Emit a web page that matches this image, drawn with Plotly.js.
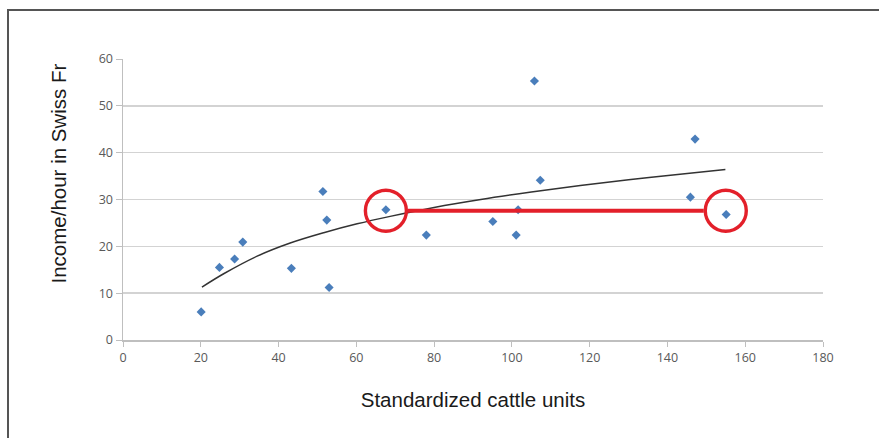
<!DOCTYPE html>
<html>
<head>
<meta charset="utf-8">
<script src="https://cdn.plot.ly/plotly-3.0.1.min.js"></script>
<style>
  html, body { margin: 0; padding: 0; background: #ffffff; overflow: hidden; }
  #wrap { position: relative; width: 879px; height: 438px; }
  #chart { position: absolute; left: 0; top: 0; width: 879px; height: 438px; }
  #frame { position: absolute; left: 7px; top: 9px; width: 900px; height: 460px;
           border-left: 2px solid #555555; border-top: 2px solid #555555; pointer-events: none; }
</style>
</head>
<body>
<div id="wrap">
  <div id="chart"></div>
  <div id="frame"></div>
</div>
<script>
// ---- data ----
const cattleUnits   = [20.1, 24.8, 28.7, 30.8, 43.3, 51.4, 52.4, 53.0, 67.6, 78.0, 95.1, 101.1, 101.6, 105.8, 107.3, 145.9, 147.1, 155.1];
const incomePerHour = [6.0, 15.5, 17.3, 20.9, 15.3, 31.7, 25.6, 11.2, 27.8, 22.4, 25.3, 22.4, 27.8, 55.3, 34.1, 30.5, 42.9, 26.8];

// fitted trend curve as drawn in the reference
const trendX = [20.3, 26, 34.5, 43, 51.6, 60.2, 68.7, 80, 92, 105, 117.6, 130, 142, 154.9];
const trendY = [11.3, 14.2, 17.9, 20.7, 22.9, 24.8, 26.4, 28.3, 30.0, 31.6, 33.0, 34.2, 35.3, 36.4];

// highlighted farms (red circles) and the equal-income level joining them
const highlightX = [67.6, 155.0];
const highlightLevel = 27.6;

const xTicks = [0, 20, 40, 60, 80, 100, 120, 140, 160, 180];
const yTicks = [0, 10, 20, 30, 40, 50, 60];
const xTitle = 'Standardized cattle units';
const yTitle = 'Income/hour in Swiss Fr';

// ---- layout ----
const W = 879, H = 438;
const margin = { l: 123, r: 56, t: 59, b: 98, pad: 0 };
const xRange = [0, 180], yRange = [0, 60];
const plotW = W - margin.l - margin.r;
const pxPerX = plotW / (xRange[1] - xRange[0]);
const circleR = 20.5;
const lineGap = 22;
const red = '#e3202a';

const traces = [
  {
    x: trendX, y: trendY, type: 'scatter', mode: 'lines',
    line: { color: '#333333', width: 1.5, shape: 'spline', smoothing: 1 },
    hoverinfo: 'skip', showlegend: false
  },
  {
    x: cattleUnits, y: incomePerHour, type: 'scatter', mode: 'markers',
    marker: { symbol: 'diamond', size: 7, color: '#4a7ebb', line: { width: 0 } },
    showlegend: false
  }
];

const shapes = highlightX.map(function (cx) {
  return {
    type: 'circle', xref: 'x', yref: 'y', layer: 'above',
    xsizemode: 'pixel', ysizemode: 'pixel',
    xanchor: cx, yanchor: highlightLevel,
    x0: -circleR, x1: circleR, y0: -circleR, y1: circleR,
    line: { color: red, width: 3.4 }, fillcolor: 'rgba(0,0,0,0)'
  };
});
shapes.push({
  type: 'line', xref: 'x', yref: 'y', layer: 'above',
  x0: highlightX[0] + lineGap / pxPerX, x1: highlightX[1] - lineGap / pxPerX,
  y0: highlightLevel, y1: highlightLevel,
  line: { color: red, width: 4 }
});

const tickFont = { family: 'Open Sans, DejaVu Sans, sans-serif', size: 12.5, color: '#595959' };
const titleFont = { family: 'Liberation Sans, Arial, sans-serif', size: 20.5, color: '#1a1a1a' };

const layout = {
  width: W, height: H, margin: margin,
  paper_bgcolor: '#ffffff', plot_bgcolor: '#ffffff',
  showlegend: false,
  xaxis: {
    range: xRange, tickmode: 'array', tickvals: xTicks, ticktext: xTicks.map(String),
    showgrid: false, zeroline: false,
    showline: true, linecolor: '#bfbfbf', linewidth: 1.5,
    ticks: 'outside', ticklen: 5, tickwidth: 1, tickcolor: '#bfbfbf',
    tickfont: tickFont,
    title: { text: xTitle, font: titleFont, standoff: 28 }
  },
  yaxis: {
    range: yRange, tickmode: 'array', tickvals: yTicks, ticktext: yTicks.map(String),
    showgrid: true, gridcolor: '#d3d3d3', gridwidth: 1.5, zeroline: false,
    showline: true, linecolor: '#bfbfbf', linewidth: 1.5,
    ticks: 'outside', ticklen: 6, tickwidth: 1, tickcolor: '#bfbfbf',
    tickfont: tickFont
  },
  annotations: [{
    text: yTitle, textangle: -90, showarrow: false,
    xref: 'paper', yref: 'paper',
    x: (57.5 - margin.l) / plotW, y: (H - margin.b - 174) / (H - margin.t - margin.b),
    xanchor: 'center', yanchor: 'middle',
    font: titleFont
  }],
  shapes: shapes
};

Plotly.newPlot('chart', traces, layout, { displayModeBar: false, staticPlot: true });
</script>
</body>
</html>
